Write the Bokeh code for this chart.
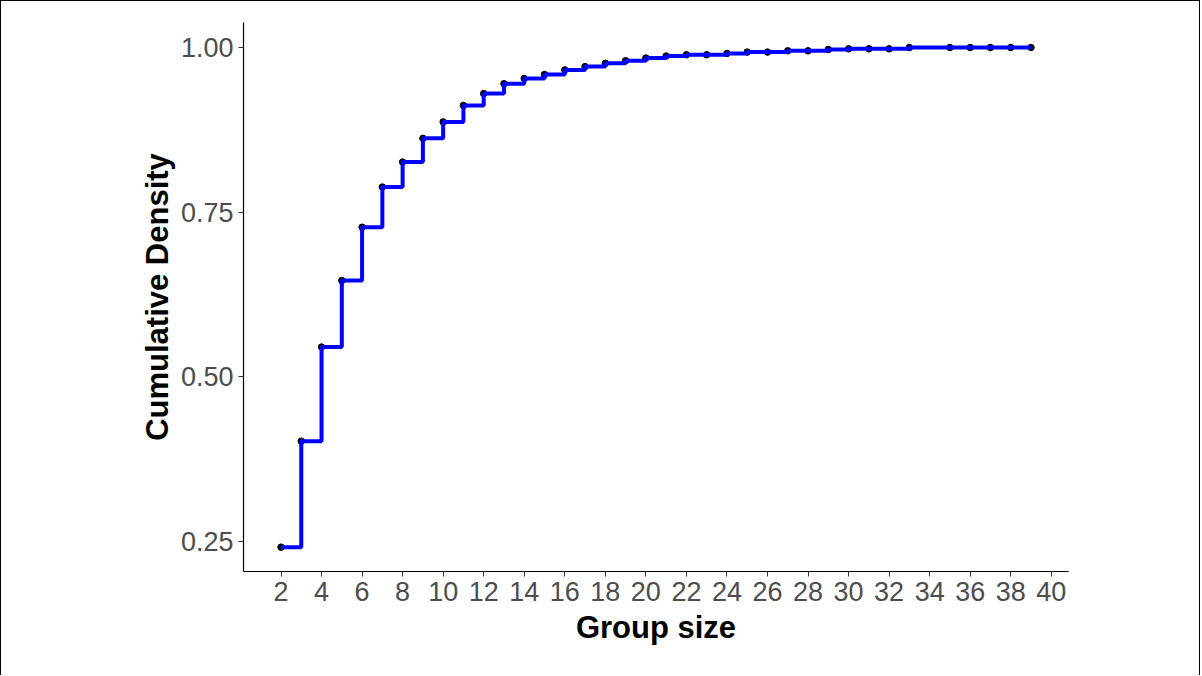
from bokeh.plotting import figure
from bokeh.models import Range1d, FixedTicker, CustomJSTickFormatter
from bokeh.embed import file_html
from bokeh.resources import INLINE

group_size = [2, 3, 4, 5, 6, 7, 8, 9, 10, 11, 12, 13, 14, 15, 16, 17, 18, 19, 20,
              21, 22, 23, 24, 25, 26, 27, 28, 29, 30, 31, 32, 33, 35, 36, 37, 38, 39]
cum_density = [0.241, 0.402, 0.545, 0.646, 0.727, 0.788, 0.826, 0.862, 0.887, 0.912,
               0.930, 0.945, 0.953, 0.959, 0.966, 0.971, 0.976, 0.980, 0.984, 0.987,
               0.989, 0.989, 0.991, 0.993, 0.993, 0.995, 0.995, 0.997, 0.998, 0.998,
               0.998, 1.000, 1.000, 1.000, 1.000, 1.000, 1.000]
x_ticks = list(range(2, 41, 2))
y_ticks = [0.25, 0.50, 0.75, 1.00]

p = figure(width=1200, height=675, output_backend="svg", toolbar_location=None,
           x_range=Range1d(0.15, 40.85), y_range=Range1d(0.204, 1.038),
           min_border_left=242, min_border_right=133, min_border_top=21,
           min_border_bottom=105,
           styles={"border-left": "1px solid black", "border-top": "1px solid black",
                   "border-right": "1px solid black"})
p.outline_line_color = None
p.xgrid.grid_line_color = None
p.ygrid.grid_line_color = None

p.scatter(group_size, cum_density, size=6.5, color="black")
p.step(group_size, cum_density, mode="after", line_color="blue", line_width=4)

for ax in (p.xaxis[0], p.yaxis[0]):
    ax.axis_line_color = "black"
    ax.axis_line_width = 1.2
    ax.major_tick_line_color = "#333333"
    ax.major_tick_in = 0
    ax.major_tick_out = 5
    ax.minor_tick_line_color = None
    ax.major_label_text_font = "Liberation Sans"
    ax.major_label_text_font_size = "27px"
    ax.major_label_text_color = "#4D4D4D"
    ax.axis_label_text_font = "Liberation Sans"
    ax.axis_label_text_font_size = "31px"
    ax.axis_label_text_font_style = "bold"
    ax.axis_label_text_color = "black"

p.xaxis.ticker = FixedTicker(ticks=x_ticks)
p.yaxis.ticker = FixedTicker(ticks=y_ticks)
p.yaxis.formatter = CustomJSTickFormatter(code="return tick.toFixed(2);")
p.xaxis.axis_label = "Group size"
p.yaxis.axis_label = "Cumulative Density"
p.xaxis.major_label_standoff = 5
p.yaxis.major_label_standoff = 5
p.xaxis.axis_label_standoff = 6
p.yaxis.axis_label_standoff = 3

open("out.html", "w").write(file_html(p, INLINE))
